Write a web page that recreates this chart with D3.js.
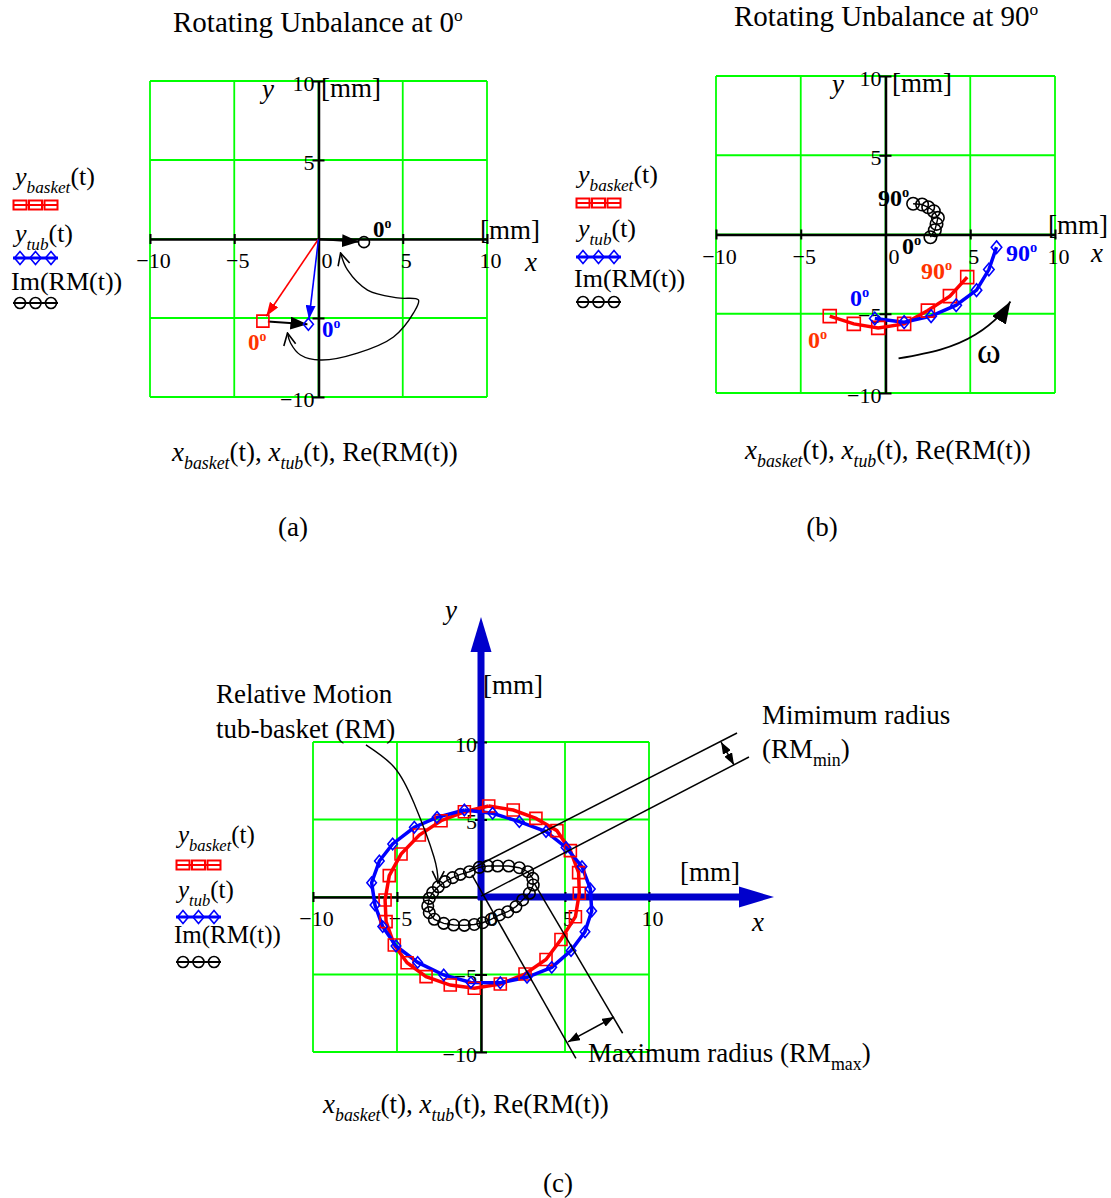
<!DOCTYPE html>
<html>
<head>
<meta charset="utf-8">
<script src="https://cdn.jsdelivr.net/npm/d3@7"></script>
<style>
  body { margin: 0; background: #fff; }
  text { font-family: "Liberation Serif", "Times New Roman", serif; }
</style>
</head>
<body>
<svg id="fig" width="1111" height="1198"></svg>
<script>
// axis values shared by all three panels [mm]
const gridValues = [-10, -5, 0, 5, 10];
const xTickValues = [-10, -5, 0, 5, 10];
const yTickValues = [-10, -5, 5, 10];

// (a) rotating unbalance at 0 deg: one point per trace (x, y) [mm]
const basketA = [[-3.3, -5.2]];
const tubA = [[-0.6, -5.4]];
const rmA = [[2.7, -0.2]];

// (b) rotating unbalance at 90 deg: 0..90 deg of rotation
const basketB = [[-3.29, -5.15], [-1.87, -5.64], [-0.43, -5.89], [1.10, -5.64], [2.50, -4.80], [3.80, -3.89], [4.82, -2.69]];
const tubB = [[-0.63, -5.30], [1.10, -5.53], [2.69, -5.15], [4.17, -4.46], [5.37, -3.51], [6.10, -2.21], [6.55, -0.80]];
const rmB = [[2.65, -0.17], [2.91, 0.27], [3.01, 0.67], [3.09, 1.05], [2.85, 1.47], [2.52, 1.72], [2.16, 1.89], [1.63, 1.94]];

// (c) full revolution
const basketC = [[0.46, 5.87], [1.92, 5.61], [3.27, 5.07], [4.52, 4.28], [5.32, 2.99], [5.81, 1.57], [5.85, 0.24], [5.62, -1.27],
  [4.76, -2.74], [3.87, -4.03], [2.62, -4.97], [1.15, -5.61], [-0.40, -5.89], [-1.83, -5.68], [-3.27, -5.14], [-4.40, -4.24],
  [-5.16, -3.10], [-5.65, -1.59], [-5.71, -0.19], [-5.46, 1.38], [-4.76, 2.77], [-3.67, 4.00], [-2.38, 4.92], [-0.99, 5.50], [0.46, 5.87]];
const tubC = [[-0.99, 5.61], [0.69, 5.40], [2.28, 4.86], [3.87, 4.22], [5.06, 3.20], [6.01, 1.96], [6.51, 0.52], [6.59, -0.90],
  [6.19, -2.24], [5.36, -3.46], [4.21, -4.54], [2.74, -5.18], [1.15, -5.53], [-0.60, -5.51], [-2.22, -5.03], [-3.77, -4.22],
  [-5.06, -3.16], [-5.85, -1.91], [-6.31, -0.52], [-6.51, 0.92], [-6.05, 2.32], [-5.26, 3.42], [-3.97, 4.50], [-2.62, 5.14], [-0.99, 5.61]];
const rmC = [[-0.69, 1.63], [-0.10, 1.91], [0.40, 2.00], [0.99, 2.00], [1.65, 2.00], [2.28, 1.89], [2.78, 1.63], [3.08, 1.20],
  [3.11, 0.77], [2.88, 0.24], [2.48, -0.19], [2.08, -0.62], [1.59, -0.95], [1.09, -1.16], [0.60, -1.44], [0.10, -1.66],
  [-0.40, -1.77], [-0.99, -1.83], [-1.63, -1.81], [-2.22, -1.70], [-2.78, -1.44], [-3.08, -1.01], [-3.17, -0.58], [-3.08, -0.09],
  [-2.88, 0.28], [-2.54, 0.66], [-2.14, 0.99], [-1.69, 1.25], [-1.23, 1.46], [-0.69, 1.63]];

// hand-drawn annotation paths, in data units of their panel
const loopArrowA = [[1.31, -0.89], [1.72, -1.96], [2.91, -3.23], [4.69, -3.73], [5.93, -3.86], [5.64, -4.68], [4.45, -6.20],
  [2.31, -7.22], [0.12, -7.66], [-1.07, -7.34], [-1.66, -6.58], [-1.84, -5.95]];
const omegaArrowB = [[0.77, -7.82], [3.24, -7.26], [5.31, -6.31], [6.78, -5.05], [7.37, -4.23]];
const rmArrowC = [[-6.85, 9.81], [-5.18, 8.39], [-3.99, 6.06], [-2.80, 2.58], [-2.56, 0.90]];
const minLinesC = [[[-0.71, 1.74], [15.24, 10.58]], [[0, 0.06], [15.95, 9.03]]];
const minArrowC = [[14.29, 10.0], [15.06, 8.52]];
const maxLinesC = [[[3.17, 0.88], [8.43, -8.79]], [[-0.54, 1.42], [5.65, -10.41]]];
const maxArrowC = [[5.18, -9.35], [7.92, -7.74]];

const RED = "#ff0000", BLUE = "#0000ff", GREEN = "#00ff00";
const svg = d3.select("#fig");
const defs = svg.append("defs");

function triMarker(id, color, len, wid) {
  defs.append("marker").attr("id", id)
    .attr("viewBox", `0 0 ${len} ${wid}`).attr("refX", len).attr("refY", wid / 2)
    .attr("markerWidth", len).attr("markerHeight", wid)
    .attr("markerUnits", "userSpaceOnUse").attr("orient", "auto-start-reverse")
    .append("path").attr("d", `M0,0L${len},${wid / 2}L0,${wid}Z`).attr("fill", color);
}
triMarker("tri-red", RED, 14, 10);
triMarker("tri-blue", BLUE, 14, 10);
triMarker("tri-black", "#000", 17, 13);
triMarker("tri-big", "#000", 22, 16);
triMarker("tri-small", "#000", 12, 9);
defs.append("marker").attr("id", "vee")
  .attr("viewBox", "-1 -1 14 14").attr("refX", 12).attr("refY", 6)
  .attr("markerWidth", 14).attr("markerHeight", 14)
  .attr("markerUnits", "userSpaceOnUse").attr("orient", "auto-start-reverse")
  .append("path").attr("d", "M0,0L12,6L0,12").attr("fill", "none").attr("stroke", "#000").attr("stroke-width", 1.6);

// text with italic / subscript / superscript pieces
function rich(g, x, y, parts, size, fill, weight) {
  const t = g.append("text").attr("x", x).attr("y", y).attr("font-size", size).attr("fill", fill || "#000");
  if (weight) t.attr("font-weight", weight);
  let shift = 0;
  parts.forEach(p => {
    const want = p.sub ? size * 0.3 : p.sup ? -size * 0.38 : 0;
    const s = t.append("tspan").text(p.t).attr("dy", want - shift);
    shift = want;
    if (p.sub) s.attr("font-size", size * 0.66);
    if (p.sup) s.attr("font-size", size * 0.6);
    if (p.it) s.attr("font-style", "italic");
  });
  return t;
}
const deg = v => [{ t: v }, { t: "o", sup: true }];

function drawMarkers(g, pts, kind, color, s) {
  const sel = g.append("g").attr("fill", "none").attr("stroke", color).attr("stroke-width", 1.6)
    .selectAll("path").data(pts).join("path")
    .attr("transform", d => `translate(${d[0]},${d[1]})`);
  if (kind === "square") sel.attr("d", `M${-s / 2},${-s / 2}h${s}v${s}h${-s}Z`);
  if (kind === "diamond") sel.attr("d", `M0,${-s * 0.6}L${s / 2},0L0,${s * 0.6}L${-s / 2},0Z`);
  if (kind === "circle") sel.attr("d", d3.symbol(d3.symbolCircle, Math.PI * s * s / 4)());
}

function legend(g, lx, rows, size) {
  const texts = [
    [{ t: "y", it: true }, { t: "basket", it: true, sub: true }, { t: "(t)" }],
    [{ t: "y", it: true }, { t: "tub", it: true, sub: true }, { t: "(t)" }],
    [{ t: "Im(RM(t))" }]
  ];
  const kinds = [["square", RED, 2], ["diamond", BLUE, 3], ["circle", "#000", 2]];
  texts.forEach((parts, i) => {
    rich(g, i === 2 ? lx - 2 : lx + 2, rows[i * 2], parts, size);
    const ly = rows[i * 2 + 1];
    g.append("line").attr("x1", lx).attr("x2", lx + 45).attr("y1", ly).attr("y2", ly)
      .attr("stroke", kinds[i][1]).attr("stroke-width", kinds[i][2]);
    const pts = [7, 22.5, 38].map(dx => [lx + dx, ly]);
    if (i === 0) {
      g.append("g").selectAll("rect").data(pts).join("rect")
        .attr("x", d => d[0] - 6.5).attr("y", d => d[1] - 4.5).attr("width", 13).attr("height", 9)
        .attr("fill", "none").attr("stroke", RED).attr("stroke-width", 2);
    } else {
      drawMarkers(g, pts, kinds[i][0], kinds[i][1], 11);
    }
  });
}

function panel(cfg) {
  const g = svg.append("g");
  const x = d3.scaleLinear().domain([-10, 10]).range([cfg.left, cfg.right]);
  const y = d3.scaleLinear().domain([-10, 10]).range([cfg.bottom, cfg.top]);

  // green grid (outer lines form the frame)
  const grid = g.append("g").attr("stroke", GREEN).attr("stroke-width", 1.8);
  grid.selectAll(".gv").data(gridValues).join("line")
    .attr("x1", d => x(d)).attr("x2", d => x(d)).attr("y1", y(-10)).attr("y2", y(10));
  grid.selectAll(".gh").data(gridValues).join("line")
    .attr("y1", d => y(d)).attr("y2", d => y(d)).attr("x1", x(-10)).attr("x2", x(10));

  // x axis through y = 0
  const xa = g.append("g").attr("transform", `translate(0,${y(0)})`)
    .call(d3.axisBottom(x).tickValues(xTickValues).tickSize(0).tickSizeOuter(0));
  xa.select(".domain").attr("stroke", "#000").attr("stroke-width", 2.5);
  xa.selectAll(".tick line").attr("y1", d => d === 0 ? 0 : -5).attr("y2", d => d === 0 ? 0 : 5)
    .attr("stroke", "#000").attr("stroke-width", 2);
  xa.selectAll(".tick text").attr("font-size", 22).attr("fill", "#000")
    .attr("y", 29).attr("dy", 0).attr("dx", d => d === 0 ? cfg.zeroDx : 3)
    .text(d => cfg.xLabels.includes(d) ? d3.format("")(d) : "");
  xa.attr("font-family", null);

  // y axis through x = 0
  const ya = g.append("g").attr("transform", `translate(${x(0)},0)`)
    .call(d3.axisLeft(y).tickValues(yTickValues).tickSize(0).tickSizeOuter(0));
  ya.select(".domain").attr("stroke", "#000").attr("stroke-width", 2.5);
  ya.selectAll(".tick line").attr("x1", -6).attr("x2", 6).attr("stroke", "#000").attr("stroke-width", 2);
  ya.selectAll(".tick text").attr("font-size", 22).attr("fill", "#000")
    .attr("x", -4).attr("y", 9).attr("dy", 0)
    .text(d => cfg.yLabels.includes(d) ? d3.format("")(d) : "");
  ya.attr("font-family", null);

  return { g, x, y };
}

const line = (x, y) => d3.line().x(d => x(d[0])).y(d => y(d[1]));
const px = (p, d) => [p.x(d[0]), p.y(d[1])];

function arrowFrom(g, a, b, trimEnd, trimStart, marker, color, w) {
  const dx = b[0] - a[0], dy = b[1] - a[1], L = Math.hypot(dx, dy);
  g.append("line")
    .attr("x1", a[0] + dx / L * trimStart).attr("y1", a[1] + dy / L * trimStart)
    .attr("x2", b[0] - dx / L * trimEnd).attr("y2", b[1] - dy / L * trimEnd)
    .attr("stroke", color).attr("stroke-width", w).attr("marker-end", `url(#${marker})`);
}

// ---------------- (a) ----------------
rich(svg, 173, 32, [{ t: "Rotating Unbalance at " }, ...deg("0")], 29);
const pa = panel({ left: 150, right: 487, top: 81, bottom: 397, xLabels: xTickValues, yLabels: [10, 5, -10], zeroDx: 8 });
legend(svg, 13, [185, 205, 242, 258, 290, 303], 26);
{
  const { g, x, y } = pa;
  const o = [x(0), y(0)];
  arrowFrom(g, o, px(pa, basketA[0]), 6, 0, "tri-red", RED, 1.6);
  arrowFrom(g, o, px(pa, tubA[0]), 5, 0, "tri-blue", BLUE, 1.6);
  arrowFrom(g, o, px(pa, rmA[0]), 5, 0, "tri-black", "#000", 1.8);
  arrowFrom(g, px(pa, basketA[0]), px(pa, tubA[0]), 1, 5, "tri-black", "#000", 1.8);
  drawMarkers(g, basketA.map(d => px(pa, d)), "square", RED, 12);
  drawMarkers(g, tubA.map(d => px(pa, d)), "diamond", BLUE, 10);
  drawMarkers(g, rmA.map(d => px(pa, d)), "circle", "#000", 11);
  g.append("path").attr("d", line(x, y).curve(d3.curveCatmullRom)(loopArrowA))
    .attr("fill", "none").attr("stroke", "#000").attr("stroke-width", 1.4)
    .attr("marker-start", "url(#vee)").attr("marker-end", "url(#vee)");
  rich(g, 373, 237, deg("0"), 23, "#000", "bold");
  rich(g, 248, 350, deg("0"), 23, "#ff3300", "bold");
  rich(g, 322, 337, deg("0"), 23, BLUE, "bold");
  rich(g, 262, 98, [{ t: "y", it: true }], 27);
  rich(g, 321, 97, [{ t: "[mm]" }], 27);
  rich(g, 480, 239, [{ t: "[mm]" }], 27);
  rich(g, 525, 271, [{ t: "x", it: true }], 27);
}
rich(svg, 172, 461, [{ t: "x", it: true }, { t: "basket", it: true, sub: true }, { t: "(t), " },
  { t: "x", it: true }, { t: "tub", it: true, sub: true }, { t: "(t), Re(RM(t))" }], 27);
svg.append("text").attr("x", 293).attr("y", 536).attr("text-anchor", "middle").attr("font-size", 27).text("(a)");

// ---------------- (b) ----------------
rich(svg, 734, 26, [{ t: "Rotating Unbalance at " }, ...deg("90")], 29);
const pb = panel({ left: 716, right: 1055, top: 76, bottom: 393, xLabels: xTickValues, yLabels: [10, 5, -5, -10], zeroDx: 8 });
legend(svg, 576, [183, 203, 237, 257, 287, 302], 26);
{
  const { g, x, y } = pb;
  g.append("path").attr("d", line(x, y)(basketB)).attr("fill", "none").attr("stroke", RED).attr("stroke-width", 3.5);
  g.append("path").attr("d", line(x, y)(tubB)).attr("fill", "none").attr("stroke", BLUE).attr("stroke-width", 3.5);
  g.append("path").attr("d", line(x, y)(rmB)).attr("fill", "none").attr("stroke", "#000").attr("stroke-width", 1.4);
  drawMarkers(g, basketB.map(d => px(pb, d)), "square", RED, 13);
  drawMarkers(g, tubB.map(d => px(pb, d)), "diamond", BLUE, 10.5);
  drawMarkers(g, rmB.map(d => px(pb, d)), "circle", "#000", 12.5);
  g.append("path").attr("d", line(x, y).curve(d3.curveNatural)(omegaArrowB))
    .attr("fill", "none").attr("stroke", "#000").attr("stroke-width", 1.8).attr("marker-end", "url(#tri-big)");
  rich(g, 878, 206, deg("90"), 24, "#000", "bold");
  rich(g, 902, 254, deg("0"), 24, "#000", "bold");
  rich(g, 921, 279, deg("90"), 24, "#ff3300", "bold");
  rich(g, 1006, 261, deg("90"), 24, BLUE, "bold");
  rich(g, 850, 306, deg("0"), 24, BLUE, "bold");
  rich(g, 808, 348, deg("0"), 24, "#ff3300", "bold");
  g.append("text").attr("x", 977).attr("y", 363).attr("font-size", 36).text("ω");
  rich(g, 832, 93, [{ t: "y", it: true }], 27);
  rich(g, 892, 92, [{ t: "[mm]" }], 27);
  rich(g, 1048, 234, [{ t: "[mm]" }], 27);
  rich(g, 1091, 262, [{ t: "x", it: true }], 27);
}
rich(svg, 745, 459, [{ t: "x", it: true }, { t: "basket", it: true, sub: true }, { t: "(t), " },
  { t: "x", it: true }, { t: "tub", it: true, sub: true }, { t: "(t), Re(RM(t))" }], 27);
svg.append("text").attr("x", 822).attr("y", 536).attr("text-anchor", "middle").attr("font-size", 27).text("(b)");

// ---------------- (c) ----------------
const pc = panel({ left: 313, right: 649, top: 742, bottom: 1052, xLabels: xTickValues, yLabels: [10, 5, -5, -10], zeroDx: 11 });
legend(svg, 176, [843, 865, 898, 917, 943, 962], 25);
{
  const { g, x, y } = pc;
  // thick blue x / y axes with arrowheads
  const o = [x(0), y(0)];
  const yTip = y(18.06), xTip = x(17.44);
  g.append("line").attr("x1", o[0]).attr("y1", o[1] + 3).attr("x2", o[0]).attr("y2", yTip + 30)
    .attr("stroke", "#0000cc").attr("stroke-width", 7);
  g.append("path").attr("d", `M${o[0]},${yTip}L${o[0] + 10.5},${yTip + 35}L${o[0] - 10.5},${yTip + 35}Z`).attr("fill", "#0000cc");
  g.append("line").attr("x1", o[0] - 3).attr("y1", o[1]).attr("x2", xTip - 30).attr("y2", o[1])
    .attr("stroke", "#0000cc").attr("stroke-width", 7);
  g.append("path").attr("d", `M${xTip},${o[1]}L${xTip - 35},${o[1] - 10.5}L${xTip - 35},${o[1] + 10.5}Z`).attr("fill", "#0000cc");

  g.append("path").attr("d", line(x, y)(basketC)).attr("fill", "none").attr("stroke", RED).attr("stroke-width", 3.5);
  g.append("path").attr("d", line(x, y)(tubC)).attr("fill", "none").attr("stroke", BLUE).attr("stroke-width", 3.5);
  g.append("path").attr("d", line(x, y)(rmC)).attr("fill", "none").attr("stroke", "#000").attr("stroke-width", 1.4);
  drawMarkers(g, basketC.slice(0, -1).map(d => px(pc, d)), "square", RED, 12);
  drawMarkers(g, tubC.slice(0, -1).map(d => px(pc, d)), "diamond", BLUE, 9.5);
  drawMarkers(g, rmC.slice(0, -1).map(d => px(pc, d)), "circle", "#000", 11.5);

  // radius construction lines
  [...minLinesC, ...maxLinesC].forEach(seg => {
    g.append("line").attr("x1", x(seg[0][0])).attr("y1", y(seg[0][1])).attr("x2", x(seg[1][0])).attr("y2", y(seg[1][1]))
      .attr("stroke", "#000").attr("stroke-width", 1.5);
  });
  [minArrowC, maxArrowC].forEach(seg => {
    g.append("line").attr("x1", x(seg[0][0])).attr("y1", y(seg[0][1])).attr("x2", x(seg[1][0])).attr("y2", y(seg[1][1]))
      .attr("stroke", "#000").attr("stroke-width", 1.5)
      .attr("marker-start", "url(#tri-small)").attr("marker-end", "url(#tri-small)");
  });
  g.append("path").attr("d", line(x, y).curve(d3.curveNatural)(rmArrowC))
    .attr("fill", "none").attr("stroke", "#000").attr("stroke-width", 1.4).attr("marker-end", "url(#vee)");

  rich(g, 445, 619, [{ t: "y", it: true }], 27);
  rich(g, 483, 694, [{ t: "[mm]" }], 27);
  rich(g, 680, 881, [{ t: "[mm]" }], 27);
  rich(g, 752, 931, [{ t: "x", it: true }], 27);
  rich(g, 216, 703, [{ t: "Relative Motion" }], 27);
  rich(g, 216, 738, [{ t: "tub-basket (RM)" }], 27);
  rich(g, 762, 724, [{ t: "Mimimum radius" }], 27);
  rich(g, 762, 758, [{ t: "(RM" }, { t: "min", sub: true }, { t: ")" }], 27);
  rich(g, 588, 1062, [{ t: "Maximum radius (RM" }, { t: "max", sub: true }, { t: ")" }], 27);
}
rich(svg, 323, 1113, [{ t: "x", it: true }, { t: "basket", it: true, sub: true }, { t: "(t), " },
  { t: "x", it: true }, { t: "tub", it: true, sub: true }, { t: "(t), Re(RM(t))" }], 27);
svg.append("text").attr("x", 558).attr("y", 1192).attr("text-anchor", "middle").attr("font-size", 27).text("(c)");
</script>
</body>
</html>
